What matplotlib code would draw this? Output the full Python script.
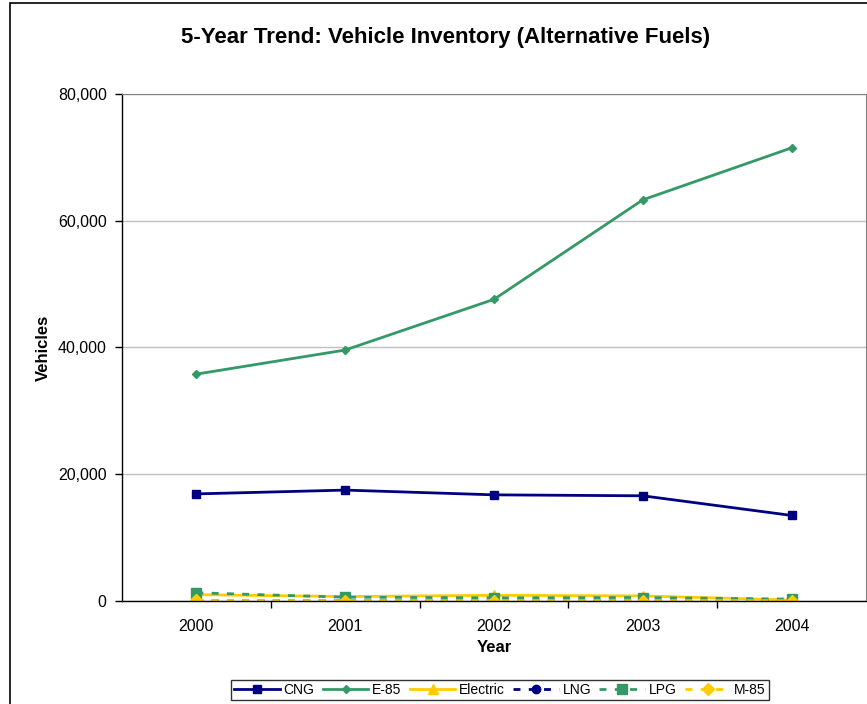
import matplotlib.pyplot as plt
from matplotlib.patches import Rectangle

plt.rcParams['font.family'] = ['Liberation Sans', 'DejaVu Sans']

years = ["2000", "2001", "2002", "2003", "2004"]
cng = [16900, 17500, 16750, 16600, 13500]
e85 = [35800, 39600, 47600, 63300, 71500]
electric = [1000, 700, 900, 800, 150]
lng = [40, 30, 30, 30, 20]
lpg = [1300, 600, 500, 550, 300]
m85 = [80, 60, 60, 60, 40]

navy = "#000080"
green = "#339966"
yellow = "#FFCC00"

fig = plt.figure(figsize=(8.67, 7.04), dpi=100)
ax = fig.add_axes([122 / 867, 1 - 601 / 704, 744 / 867, 507 / 704])

x = range(len(years))
dash = (0, (2.5, 3))
ax.plot(x, cng, color=navy, lw=2, marker="s", ms=6, label="CNG")
ax.plot(x, e85, color=green, lw=2, marker="D", ms=4.5, label="E-85")
ax.plot(x, electric, color=yellow, lw=2, marker="^", ms=7, label="Electric")
ax.plot(x, lng, color=navy, lw=2, ls=dash, marker="o", ms=6, label="LNG")
ax.plot(x, lpg, color=green, lw=2, ls=dash, marker="s", ms=7, label="LPG")
ax.plot(x, m85, color=yellow, lw=2, ls=dash, marker="D", ms=6, label="M-85")

ax.set_xlim(-0.5, 4.5)
ax.set_ylim(0, 80000)
ax.set_xticks(list(x))
ax.set_xticklabels(years)
ax.set_xticks([0.5, 1.5, 2.5, 3.5], minor=True)
ax.tick_params(axis="x", which="major", length=0, pad=13, labelsize=11.5)
ax.tick_params(axis="x", which="minor", length=5, width=1)
ax.set_yticks(range(0, 80001, 20000))
ax.yaxis.set_major_formatter(plt.FuncFormatter(lambda v, p: f"{int(v):,}"))
ax.tick_params(axis="y", length=5, width=1, labelsize=11.5, pad=6)
ax.grid(axis="y", color="#c0c0c0", lw=1)
ax.set_axisbelow(True)

for s in ["top", "right"]:
    ax.spines[s].set_color("#808080")
for s in ["left", "bottom"]:
    ax.spines[s].set_color("black")
    ax.spines[s].set_linewidth(1)

ax.set_xlabel("Year", fontsize=12, fontweight="bold", va="center")
ax.set_ylabel("Vehicles", fontsize=12, fontweight="bold", va="center")
ax.xaxis.set_label_coords(0.5, (601 - 648) / 507)
ax.yaxis.set_label_coords((43 - 122) / 744, 0.5)

fig.text(446 / 867, 1 - 38 / 704, "5-Year Trend: Vehicle Inventory (Alternative Fuels)",
         ha="center", va="center", fontsize=16, fontweight="bold")

leg = fig.legend(loc="center", bbox_to_anchor=(500 / 867, 1 - 690 / 704), ncol=6,
                 fontsize=10, frameon=True, fancybox=False, handlelength=3.3,
                 handletextpad=0.25, columnspacing=0.6, borderpad=0.2)
leg.get_frame().set_edgecolor("black")
leg.get_frame().set_linewidth(1)

fig.patches.append(Rectangle((10 / 867, -0.1), 1.2, 1 - 3 / 704 + 0.1,
                             transform=fig.transFigure, fill=False,
                             edgecolor="black", lw=1.2))

fig.savefig("out.png", dpi=100)
